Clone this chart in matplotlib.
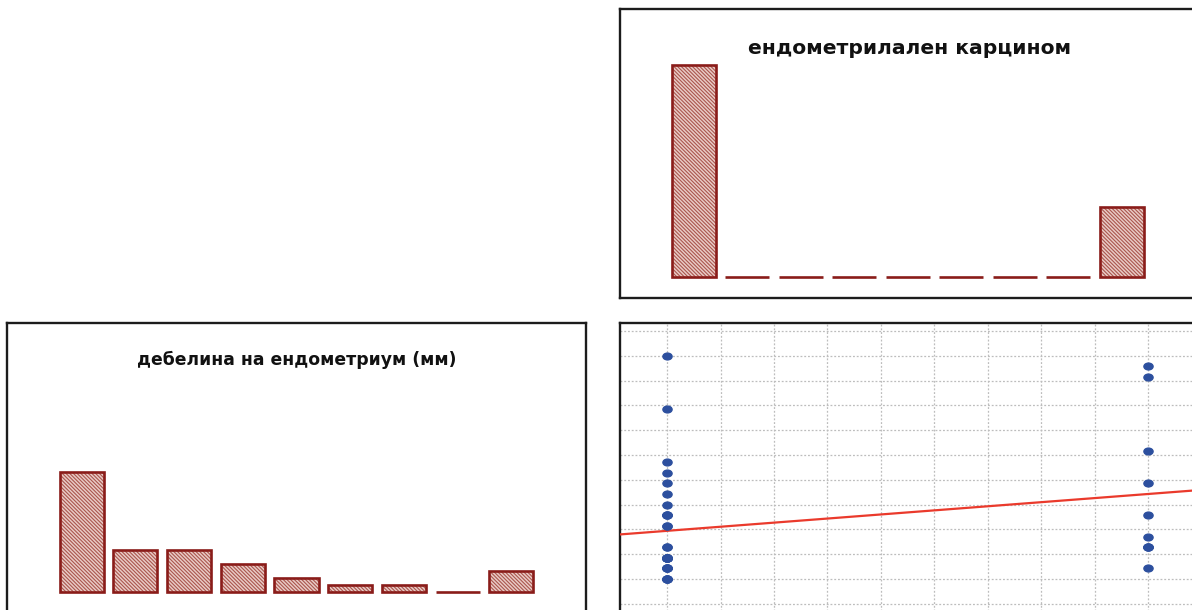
import numpy as np
import matplotlib
matplotlib.use("Agg")
import matplotlib.pyplot as plt
from matplotlib.path import Path
from matplotlib.transforms import Affine2D

# ---------------- data ----------------
carcinoma_title = "ендометрилален карцином"
thickness_title = "дебелина на ендометриум (мм)"

# histogram counts (9 bins each)
carcinoma_counts = [30, 0, 0, 0, 0, 0, 0, 0, 10]
thickness_counts = [17, 6, 6, 4, 2, 1, 1, 0, 3]

# scatter: endometrial thickness (mm) by carcinoma group (0 = no, 1 = yes)
thickness_no = [2, 2, 2, 2, 3, 3, 3, 3, 4, 4, 4, 4, 4, 4, 4, 4,
                5, 5, 7, 7, 8, 8, 8, 9, 10, 11, 12, 13, 18, 23]
thickness_yes = [3, 5, 5, 5, 6, 8, 11, 14, 21, 22]

thick_min, thick_max = 2, 23
n_bins = 9

# ---------------- styling ----------------
W, H = 1192, 610
plt.rcParams["hatch.linewidth"] = 0.8
fig = plt.figure(figsize=(W / 100, H / 100), dpi=100)
fig.patch.set_facecolor("white")

EDGE = "#8a1c19"
HATCH = "#aa554d"
FRAME = "#1c1c1c"


def px_axes(x0, y0, x1, y1):
    return fig.add_axes([x0 / W, 1 - y1 / H, (x1 - x0) / W, (y1 - y0) / H])


def style_frame(ax):
    for sp in ax.spines.values():
        sp.set_linewidth(1.7)
        sp.set_color(FRAME)
    ax.tick_params(length=0, labelbottom=False, labelleft=False)


def hist_bars(ax, edges, counts):
    centres = (edges[:-1] + edges[1:]) / 2
    width = 0.82 * (edges[1] - edges[0])
    ax.bar(centres, counts, width, facecolor="#e9cbc6", edgecolor=HATCH,
           hatch="\\" * 9, linewidth=0, zorder=2)
    ax.bar(centres, counts, width, fill=False, edgecolor=EDGE,
           linewidth=1.9, zorder=3)


def title(ax, text, ybase, width_px):
    t = ax.text(0.5, ybase, text, transform=ax.transAxes, ha="center",
                va="baseline", fontweight="bold", family="DejaVu Sans",
                fontsize=14, color="#111111")
    fig.canvas.draw()
    bb = t.get_window_extent()
    t.set_fontsize(14 * width_px / bb.width)
    return t


# ---- top-right: carcinoma histogram ----
ax_tr = px_axes(620, 9, 1199, 298)
style_frame(ax_tr)
edges_c = np.linspace(0, 1, n_bins + 1)
hist_bars(ax_tr, edges_c, carcinoma_counts)
ax_tr.set_xlim(-0.0977, 1.1053)
ax_tr.set_ylim(-2.93, 37.95)
title(ax_tr, carcinoma_title, 0.844, 324)

# ---- bottom-left: thickness histogram ----
ax_bl = px_axes(7, 323, 586, 612)
style_frame(ax_bl)
edges_t = np.linspace(thick_min, thick_max, n_bins + 1)
hist_bars(ax_bl, edges_t, thickness_counts)
ax_bl.set_xlim(-0.07, 25.07)
ax_bl.set_ylim(-2.79, 38.09)
title(ax_bl, thickness_title, 0.8547, 320)

# ---- bottom-right: scatter ----
ax_br = px_axes(620, 323, 1199, 612)
style_frame(ax_br)
step_x = 1 / n_bins
step_y = (thick_max - thick_min) / n_bins
ax_br.set_xticks(np.arange(-1, n_bins + 2) * step_x)
ax_br.set_yticks(thick_min + np.arange(-1, n_bins + 2) * step_y)
ax_br.grid(True, color="#bdbdbd", linestyle=(0, (1.5, 1.5)), linewidth=0.9)
ax_br.set_axisbelow(True)

x_all = np.array([0] * len(thickness_no) + [1] * len(thickness_yes), float)
y_all = np.array(thickness_no + thickness_yes, float)

ellipse = Path.unit_circle().transformed(Affine2D().scale(1.0, 0.74))
ax_br.plot(x_all, y_all, linestyle="none", marker=ellipse, markersize=6.6,
           markerfacecolor="#2c4f9e", markeredgecolor="#2c4f9e", zorder=4)

slope, intercept = np.polyfit(x_all, y_all, 1)
xlim = (-0.0977, 1.1053)
xx = np.array(xlim)
ax_br.plot(xx, intercept + slope * xx, color="#ea3a2c", linewidth=1.6, zorder=3)
ax_br.set_xlim(*xlim)
ax_br.set_ylim(-1.10, 26.08)

fig.savefig("out.png", dpi=100)
